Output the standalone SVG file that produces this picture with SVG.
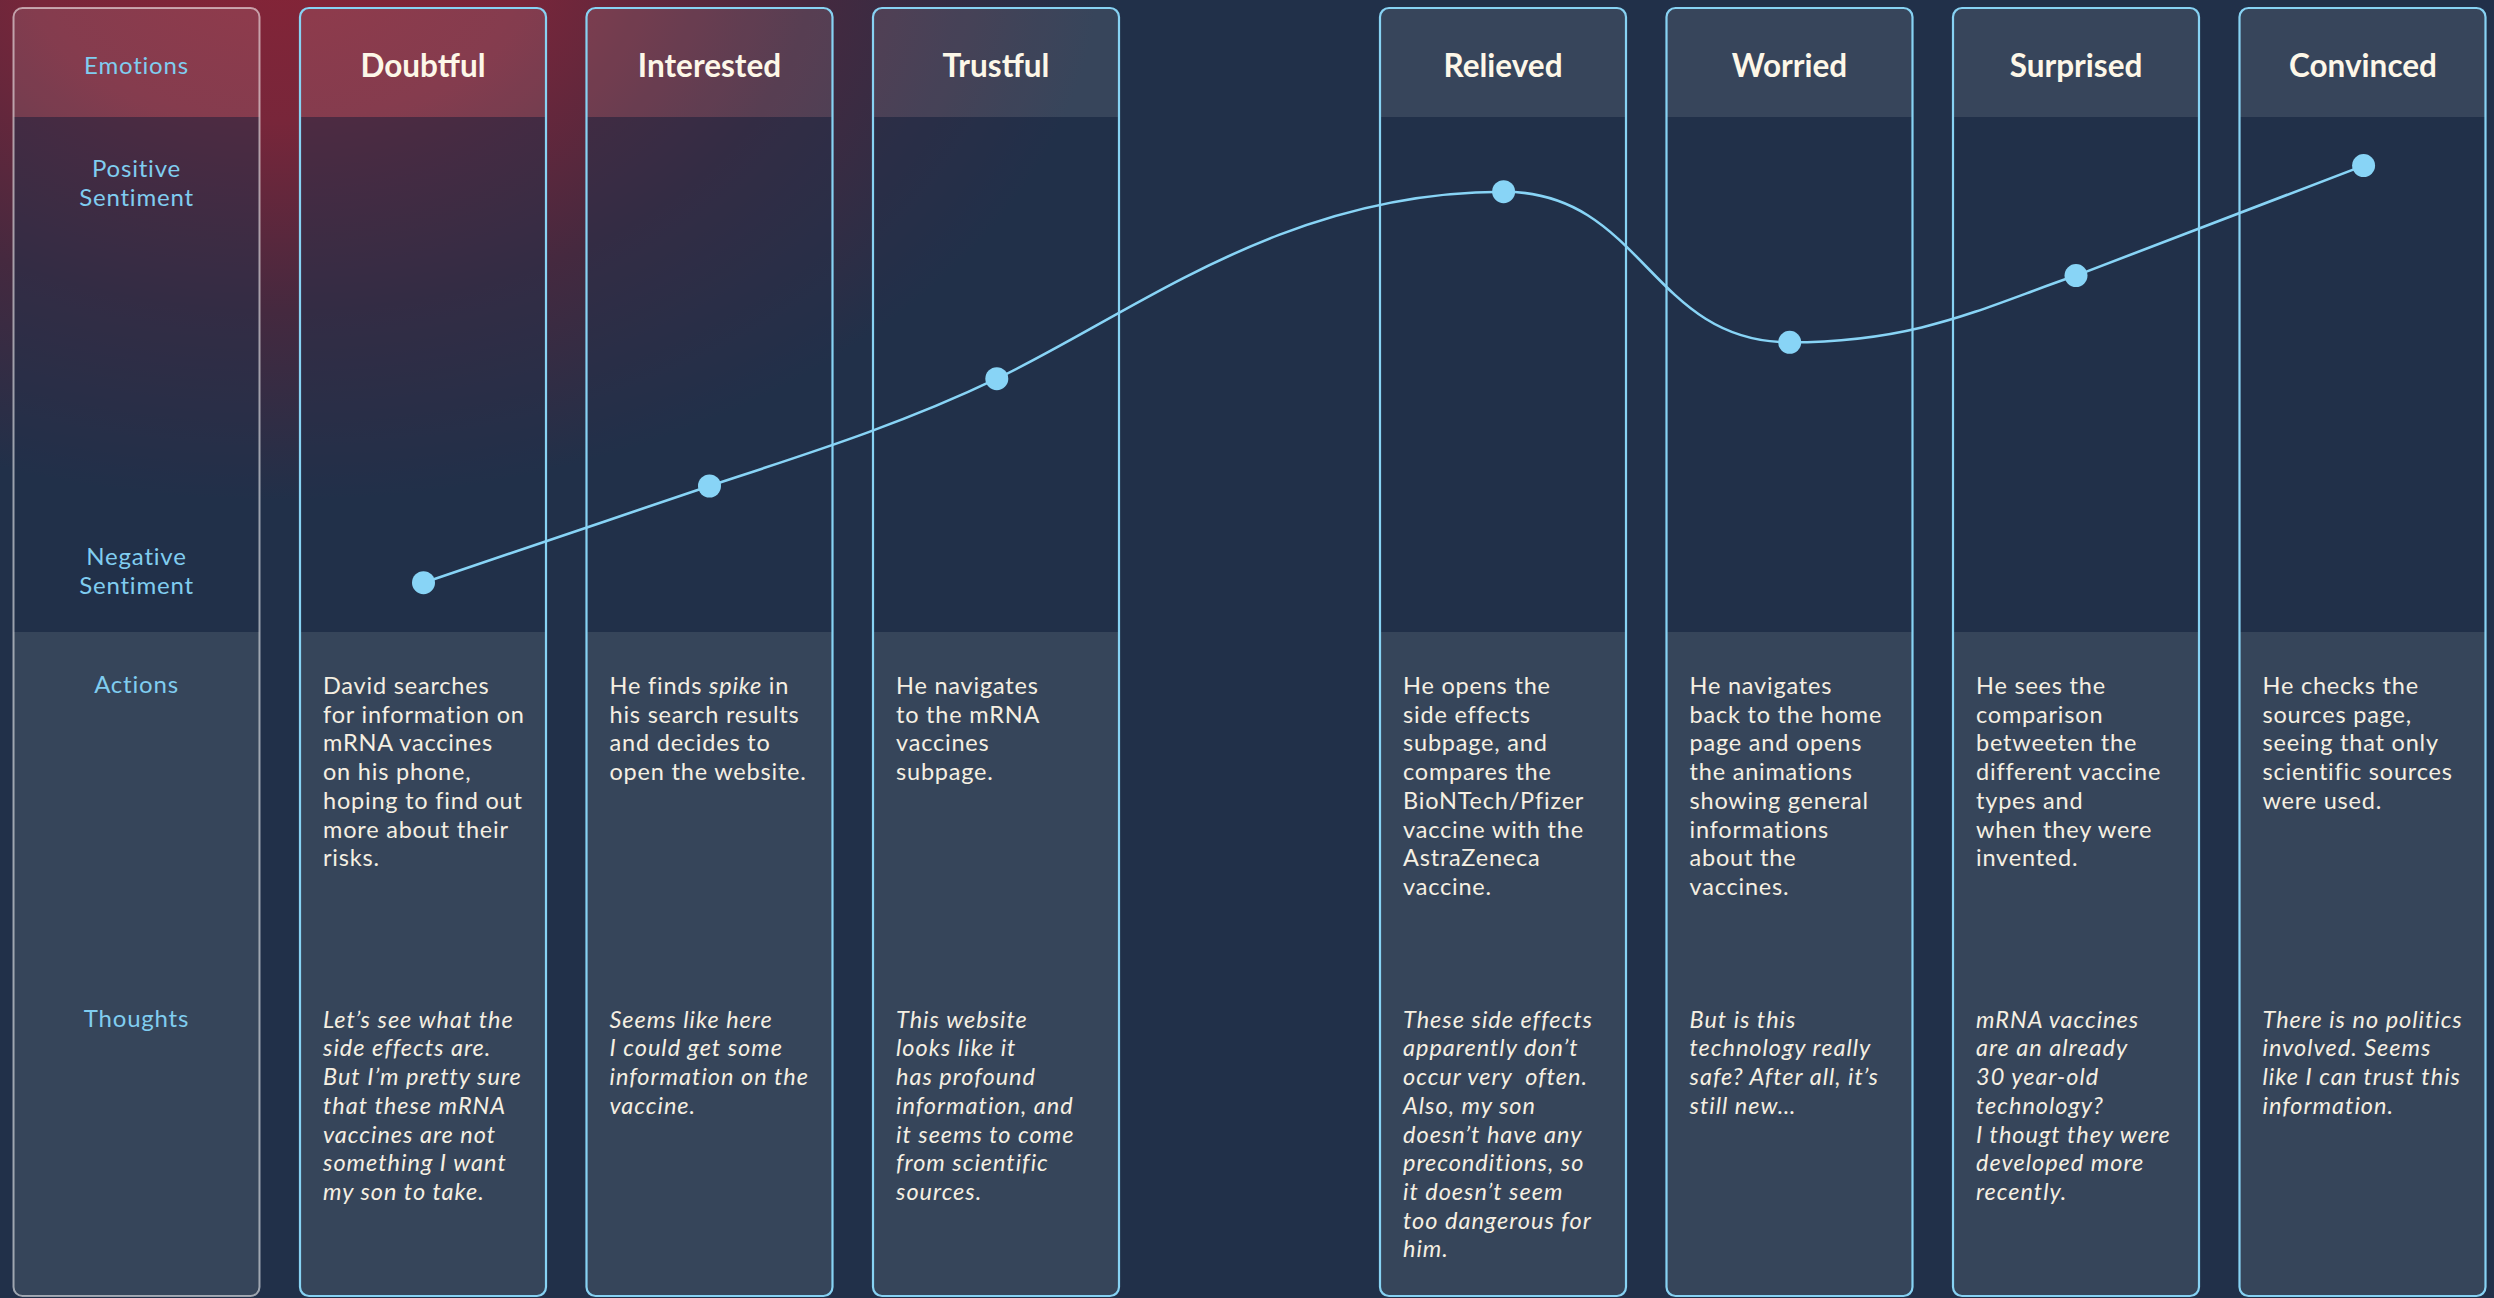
<svg xmlns="http://www.w3.org/2000/svg" xmlns:xlink="http://www.w3.org/1999/xlink" width="2494" height="1298" viewBox="0 0 2494 1298">
  <defs>
    <radialGradient id="glow" gradientUnits="userSpaceOnUse" cx="0" cy="0" r="1" gradientTransform="translate(280 -40) scale(820 540)">
      <stop offset="0" stop-color="#852437"/>
      <stop offset="0.3" stop-color="#78263a"/>
      <stop offset="0.65" stop-color="#45293f"/>
      <stop offset="1" stop-color="#213049"/>
    </radialGradient>
    <!-- shared column body: header band, emotion band, lower band -->
    <g id="colShape">
      <path class="band-head" d="M0,17 a9,9 0 0 1 9,-9 H237 a9,9 0 0 1 9,9 V117 H0 Z"/>
      <rect class="band-emo" x="0" y="117" width="246" height="515"/>
      <path class="band-low" d="M0,632 H246 V1287 a9,9 0 0 1 -9,9 H9 a9,9 0 0 1 -9,-9 Z"/>
    </g>
    <style>
      .band-head { fill: #ffffff; fill-opacity: 0.1; }
      .band-emo { fill: #213049; fill-opacity: 0.5; }
      .band-low { fill: #36455a; }
      .frame { fill: none; stroke: #87d2f3; stroke-width: 2.2; }
      .frame-label { fill: none; stroke: #ffffff; stroke-opacity: 0.55; stroke-width: 2; }
      .title { font-family: Lato, "Liberation Sans", sans-serif; font-weight: 700; font-size: 31.5px; fill: #fdf7e8; text-anchor: middle; }
      .lbl { font-family: Lato, "Liberation Sans", sans-serif; font-size: 24px; letter-spacing: 0.8px; fill: #80cdf0; text-anchor: middle; }
      .act { font-family: Lato, "Liberation Sans", sans-serif; font-size: 23.5px; fill: #f5efe2; letter-spacing: 0.8px; }
      .thk { font-family: Lato, "Liberation Sans", sans-serif; font-size: 23.5px; font-style: italic; fill: #f5efe2; letter-spacing: 1px; }
      .em { font-style: italic; }
      .curve { fill: none; stroke: #88d4f6; stroke-width: 2.6; }
      .pt { fill: #88d4f6; }
    </style>
  </defs>

  <!-- backdrop -->
  <rect x="0" y="0" width="2494" height="1298" fill="#213049"/>
  <rect x="0" y="0" width="2494" height="1298" fill="url(#glow)"/>

  <!-- row labels -->
  <g id="col-labels">
    <use xlink:href="#colShape" x="13.5"/>
    <rect class="frame-label" x="13.5" y="8" width="246" height="1288" rx="9"/>
    <text class="lbl" x="136.5" y="74">Emotions</text>
    <text class="lbl" x="136.5" y="177">Positive</text>
    <text class="lbl" x="136.5" y="206">Sentiment</text>
    <text class="lbl" x="136.5" y="565">Negative</text>
    <text class="lbl" x="136.5" y="594">Sentiment</text>
    <text class="lbl" x="136.5" y="693">Actions</text>
    <text class="lbl" x="136.5" y="1027">Thoughts</text>
  </g>

  <g id="col-doubtful">
    <use xlink:href="#colShape" x="300"/>
    <rect class="frame" x="300" y="8" width="246" height="1288" rx="9"/>
    <text class="title" x="423" y="77">Doubtful</text>
    <text class="act" x="323" y="694">
      <tspan x="323" dy="0">David searches</tspan>
      <tspan x="323" dy="28.7">for information on</tspan>
      <tspan x="323" dy="28.7">mRNA vaccines</tspan>
      <tspan x="323" dy="28.7">on his phone,</tspan>
      <tspan x="323" dy="28.7">hoping to find out</tspan>
      <tspan x="323" dy="28.7">more about their</tspan>
      <tspan x="323" dy="28.7">risks.</tspan>
    </text>
    <text class="thk" x="323" y="1027.7">
      <tspan x="323" dy="0">Let’s see what the</tspan>
      <tspan x="323" dy="28.7">side effects are.</tspan>
      <tspan x="323" dy="28.7">But I’m pretty sure</tspan>
      <tspan x="323" dy="28.7">that these mRNA</tspan>
      <tspan x="323" dy="28.7">vaccines are not</tspan>
      <tspan x="323" dy="28.7">something I want</tspan>
      <tspan x="323" dy="28.7">my son to take.</tspan>
    </text>
  </g>

  <g id="col-interested">
    <use xlink:href="#colShape" x="586.5"/>
    <rect class="frame" x="586.5" y="8" width="246" height="1288" rx="9"/>
    <text class="title" x="709.5" y="77">Interested</text>
    <text class="act" x="609.5" y="694">
      <tspan x="609.5" dy="0">He finds <tspan class="em">spike</tspan> in</tspan>
      <tspan x="609.5" dy="28.7">his search results</tspan>
      <tspan x="609.5" dy="28.7">and decides to</tspan>
      <tspan x="609.5" dy="28.7">open the website.</tspan>
    </text>
    <text class="thk" x="609.5" y="1027.7">
      <tspan x="609.5" dy="0">Seems like here</tspan>
      <tspan x="609.5" dy="28.7">I could get some</tspan>
      <tspan x="609.5" dy="28.7">information on the</tspan>
      <tspan x="609.5" dy="28.7">vaccine.</tspan>
    </text>
  </g>

  <g id="col-trustful">
    <use xlink:href="#colShape" x="873"/>
    <rect class="frame" x="873" y="8" width="246" height="1288" rx="9"/>
    <text class="title" x="996" y="77">Trustful</text>
    <text class="act" x="896" y="694">
      <tspan x="896" dy="0">He navigates</tspan>
      <tspan x="896" dy="28.7">to the mRNA</tspan>
      <tspan x="896" dy="28.7">vaccines</tspan>
      <tspan x="896" dy="28.7">subpage.</tspan>
    </text>
    <text class="thk" x="896" y="1027.7">
      <tspan x="896" dy="0">This website</tspan>
      <tspan x="896" dy="28.7">looks like it</tspan>
      <tspan x="896" dy="28.7">has profound</tspan>
      <tspan x="896" dy="28.7">information, and</tspan>
      <tspan x="896" dy="28.7">it seems to come</tspan>
      <tspan x="896" dy="28.7">from scientific</tspan>
      <tspan x="896" dy="28.7">sources.</tspan>
    </text>
  </g>

  <g id="col-relieved">
    <use xlink:href="#colShape" x="1380"/>
    <rect class="frame" x="1380" y="8" width="246" height="1288" rx="9"/>
    <text class="title" x="1503" y="77">Relieved</text>
    <text class="act" x="1403" y="694">
      <tspan x="1403" dy="0">He opens the</tspan>
      <tspan x="1403" dy="28.7">side effects</tspan>
      <tspan x="1403" dy="28.7">subpage, and</tspan>
      <tspan x="1403" dy="28.7">compares the</tspan>
      <tspan x="1403" dy="28.7">BioNTech/Pfizer</tspan>
      <tspan x="1403" dy="28.7">vaccine with the</tspan>
      <tspan x="1403" dy="28.7">AstraZeneca</tspan>
      <tspan x="1403" dy="28.7">vaccine.</tspan>
    </text>
    <text class="thk" x="1403" y="1027.7" xml:space="preserve"><tspan x="1403" dy="0">These side effects</tspan><tspan x="1403" dy="28.7">apparently don’t</tspan><tspan x="1403" dy="28.7">occur very  often.</tspan><tspan x="1403" dy="28.7">Also, my son</tspan><tspan x="1403" dy="28.7">doesn’t have any</tspan><tspan x="1403" dy="28.7">preconditions, so</tspan><tspan x="1403" dy="28.7">it doesn’t seem</tspan><tspan x="1403" dy="28.7">too dangerous for</tspan><tspan x="1403" dy="28.7">him.</tspan></text>
  </g>

  <g id="col-worried">
    <use xlink:href="#colShape" x="1666.5"/>
    <rect class="frame" x="1666.5" y="8" width="246" height="1288" rx="9"/>
    <text class="title" x="1789.5" y="77">Worried</text>
    <text class="act" x="1689.5" y="694">
      <tspan x="1689.5" dy="0">He navigates</tspan>
      <tspan x="1689.5" dy="28.7">back to the home</tspan>
      <tspan x="1689.5" dy="28.7">page and opens</tspan>
      <tspan x="1689.5" dy="28.7">the animations</tspan>
      <tspan x="1689.5" dy="28.7">showing general</tspan>
      <tspan x="1689.5" dy="28.7">informations</tspan>
      <tspan x="1689.5" dy="28.7">about the</tspan>
      <tspan x="1689.5" dy="28.7">vaccines.</tspan>
    </text>
    <text class="thk" x="1689.5" y="1027.7">
      <tspan x="1689.5" dy="0">But is this</tspan>
      <tspan x="1689.5" dy="28.7">technology really</tspan>
      <tspan x="1689.5" dy="28.7">safe? After all, it’s</tspan>
      <tspan x="1689.5" dy="28.7">still new…</tspan>
    </text>
  </g>

  <g id="col-surprised">
    <use xlink:href="#colShape" x="1953"/>
    <rect class="frame" x="1953" y="8" width="246" height="1288" rx="9"/>
    <text class="title" x="2076" y="77">Surprised</text>
    <text class="act" x="1976" y="694">
      <tspan x="1976" dy="0">He sees the</tspan>
      <tspan x="1976" dy="28.7">comparison</tspan>
      <tspan x="1976" dy="28.7">betweeten the</tspan>
      <tspan x="1976" dy="28.7">different vaccine</tspan>
      <tspan x="1976" dy="28.7">types and</tspan>
      <tspan x="1976" dy="28.7">when they were</tspan>
      <tspan x="1976" dy="28.7">invented.</tspan>
    </text>
    <text class="thk" x="1976" y="1027.7">
      <tspan x="1976" dy="0">mRNA vaccines</tspan>
      <tspan x="1976" dy="28.7">are an already</tspan>
      <tspan x="1976" dy="28.7">30 year-old</tspan>
      <tspan x="1976" dy="28.7">technology?</tspan>
      <tspan x="1976" dy="28.7">I thougt they were</tspan>
      <tspan x="1976" dy="28.7">developed more</tspan>
      <tspan x="1976" dy="28.7">recently.</tspan>
    </text>
  </g>

  <g id="col-convinced">
    <use xlink:href="#colShape" x="2239.5"/>
    <rect class="frame" x="2239.5" y="8" width="246" height="1288" rx="9"/>
    <text class="title" x="2363" y="77">Convinced</text>
    <text class="act" x="2262.5" y="694">
      <tspan x="2262.5" dy="0">He checks the</tspan>
      <tspan x="2262.5" dy="28.7">sources page,</tspan>
      <tspan x="2262.5" dy="28.7">seeing that only</tspan>
      <tspan x="2262.5" dy="28.7">scientific sources</tspan>
      <tspan x="2262.5" dy="28.7">were used.</tspan>
    </text>
    <text class="thk" x="2262.5" y="1027.7">
      <tspan x="2262.5" dy="0">There is no politics</tspan>
      <tspan x="2262.5" dy="28.7">involved. Seems</tspan>
      <tspan x="2262.5" dy="28.7">like I can trust this</tspan>
      <tspan x="2262.5" dy="28.7">information.</tspan>
    </text>
  </g>

  <!-- sentiment curve across the emotion row -->
  <g id="connectors">
    <path class="curve" d="M423.5,582.7 C518.8,550.7 614.1,518 709.5,486 C805.3,454.4 901,424.7 996.8,378.7 C1136.8,311.5 1283.6,191.7 1503.6,191.7 C1643.6,191.7 1649.7,342.3 1789.7,342.3 C1919.7,342.3 1986,306.2 2076,275.6 L2363.6,165.6"/>
  </g>

  <g id="sentiment-points">
    <circle class="pt" cx="423.5" cy="582.7" r="11.5"/>
    <circle class="pt" cx="709.5" cy="486" r="11.5"/>
    <circle class="pt" cx="996.8" cy="378.7" r="11.5"/>
    <circle class="pt" cx="1503.6" cy="191.7" r="11.5"/>
    <circle class="pt" cx="1789.7" cy="342.3" r="11.5"/>
    <circle class="pt" cx="2076" cy="275.6" r="11.5"/>
    <circle class="pt" cx="2363.6" cy="165.6" r="11.5"/>
  </g>
</svg>
